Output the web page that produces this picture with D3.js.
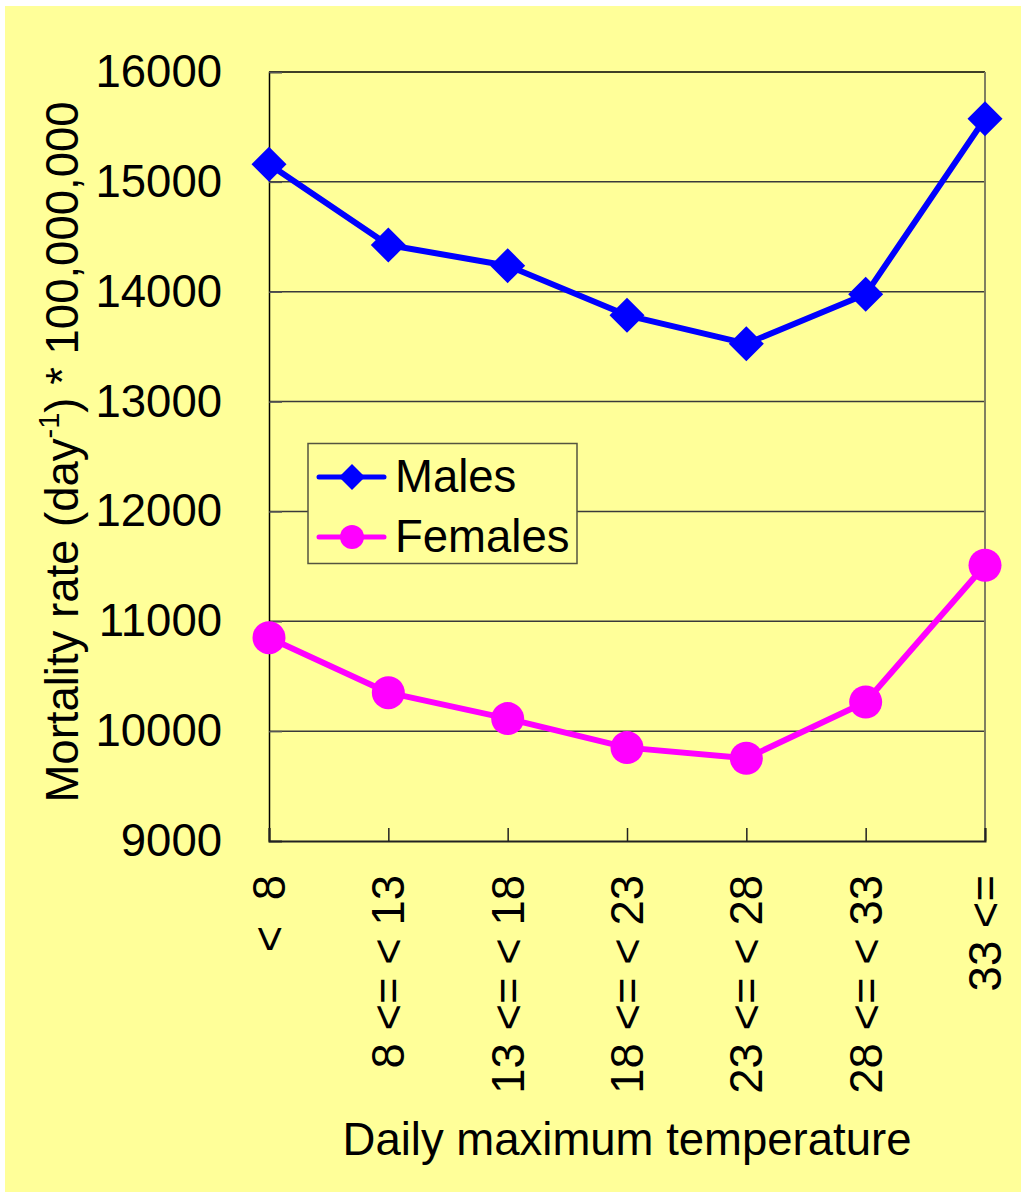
<!DOCTYPE html>
<html>
<head>
<meta charset="utf-8">
<script src="https://cdn.jsdelivr.net/npm/d3@7/dist/d3.min.js"></script>
<style>
  html, body { margin: 0; padding: 0; background: #ffffff; }
  svg { display: block; font-family: "Liberation Sans", Arial, sans-serif; }
  .cat { white-space: pre; }
</style>
</head>
<body>
<svg id="chart" width="1021" height="1194"></svg>
<script>
// Temperature bands (daily maximum, °C)
const categories = ["<  8", "8 <= < 13", "13 <= < 18", "18 <= < 23", "23 <= < 28", "28 <= < 33", "33 <="];
// Mortality rate per day * 100,000,000
const males   = [15160, 14425, 14237, 13785, 13527, 13976, 15575];
const females = [10851, 10350, 10114, 9850, 9753, 10265, 11510];
const yTicks  = [9000, 10000, 11000, 12000, 13000, 14000, 15000, 16000];
const seriesNames = ["Males", "Females"];

const svg = d3.select("#chart");
const bg = "#FFFF99";
const fs = 45.5;

// chart background panel
svg.append("rect").attr("x", 5).attr("y", 6).attr("width", 1016).attr("height", 1186).attr("fill", bg);

const plot = { left: 269, right: 985, top: 72, bottom: 841 };

const x = d3.scalePoint().domain(categories).range([plot.left, plot.right]).padding(0);
const y = d3.scaleLinear().domain([9000, 16000]).range([plot.bottom, plot.top]);

// horizontal gridlines
svg.append("g").selectAll("line").data(yTicks.filter(t => t > 9000 && t < 16000)).join("line")
  .attr("x1", plot.left).attr("x2", plot.right)
  .attr("y1", d => y(d)).attr("y2", d => y(d))
  .attr("stroke", "#3a3a3a").attr("stroke-width", 1.5);

// plot frame: top and right edges
svg.append("line").attr("x1", plot.left).attr("x2", plot.right).attr("y1", plot.top).attr("y2", plot.top)
  .attr("stroke", "#000").attr("stroke-width", 1.5);
svg.append("line").attr("x1", plot.right).attr("x2", plot.right).attr("y1", plot.top).attr("y2", plot.bottom)
  .attr("stroke", "#808060").attr("stroke-width", 2);

// y axis
const yAxis = svg.append("g").attr("transform", `translate(${plot.left},0)`)
  .call(d3.axisLeft(y).tickValues(yTicks).tickSize(-13).tickFormat(d3.format("d")).tickPadding(47));
yAxis.select(".domain").attr("stroke", "#000").attr("stroke-width", 1.5);
yAxis.selectAll(".tick line").attr("stroke", "#555").attr("stroke-width", 1.5);
yAxis.selectAll(".tick text").attr("font-size", fs).attr("fill", "#000")
  .attr("font-family", "Liberation Sans, Arial, sans-serif");

// x axis with inward ticks
const xAxis = svg.append("g").attr("transform", `translate(0,${plot.bottom})`)
  .call(d3.axisBottom(x).tickSize(-13).tickFormat(""));
xAxis.select(".domain").attr("stroke", "#222").attr("stroke-width", 2);
xAxis.selectAll(".tick line").attr("stroke", "#222").attr("stroke-width", 1.5);

// rotated category labels
svg.append("g").selectAll("text").data(categories).join("text")
  .attr("class", "cat")
  .attr("transform", d => `translate(${x(d)},875) rotate(-90)`)
  .attr("text-anchor", "end").attr("dy", "0.35em")
  .attr("font-size", fs).attr("fill", "#000")
  .text(d => d);

// axis titles
svg.append("text").attr("x", 627).attr("y", 1155).attr("text-anchor", "middle")
  .attr("font-size", fs).attr("fill", "#000").text("Daily maximum temperature");

const yTitle = svg.append("text").attr("transform", "translate(78,452) rotate(-90)")
  .attr("text-anchor", "middle").attr("font-size", fs).attr("fill", "#000");
yTitle.append("tspan").text("Mortality rate (day");
yTitle.append("tspan").attr("font-size", 29).attr("dy", -19).text("-1");
yTitle.append("tspan").attr("dy", 19).text(") * 100,000,000");

// series lines and markers
const line = d3.line().x((d, i) => x(categories[i])).y(d => y(d));
const diamond = r => `M0,${-r}L${r},0L0,${r}L${-r},0Z`;

svg.append("path").datum(males).attr("d", line).attr("fill", "none")
  .attr("stroke", "#0000FF").attr("stroke-width", 6).attr("stroke-linejoin", "round");
svg.append("g").selectAll("path").data(males).join("path")
  .attr("transform", (d, i) => `translate(${x(categories[i])},${y(d)})`)
  .attr("d", diamond(17.5)).attr("fill", "#0000FF");

svg.append("path").datum(females).attr("d", line).attr("fill", "none")
  .attr("stroke", "#FF00FF").attr("stroke-width", 6).attr("stroke-linejoin", "round");
svg.append("g").selectAll("circle").data(females).join("circle")
  .attr("cx", (d, i) => x(categories[i])).attr("cy", d => y(d))
  .attr("r", 16.5).attr("fill", "#FF00FF");

// legend
const lg = svg.append("g");
lg.append("rect").attr("x", 308).attr("y", 443.5).attr("width", 269).attr("height", 120)
  .attr("fill", bg).attr("stroke", "#555540").attr("stroke-width", 1.5);
const legendColors = ["#0000FF", "#FF00FF"];
seriesNames.forEach((name, i) => {
  const cy = 477 + i * 60;
  lg.append("line").attr("x1", 319).attr("x2", 384).attr("y1", cy).attr("y2", cy)
    .attr("stroke", legendColors[i]).attr("stroke-width", 5).attr("stroke-linecap", "round");
  if (i === 0) {
    lg.append("path").attr("transform", `translate(352,${cy})`).attr("d", diamond(13)).attr("fill", legendColors[i]);
  } else {
    lg.append("circle").attr("cx", 352).attr("cy", cy).attr("r", 12).attr("fill", legendColors[i]);
  }
  lg.append("text").attr("x", 395).attr("y", cy + 15).attr("font-size", fs).attr("fill", "#000").text(name);
});
</script>
</body>
</html>
